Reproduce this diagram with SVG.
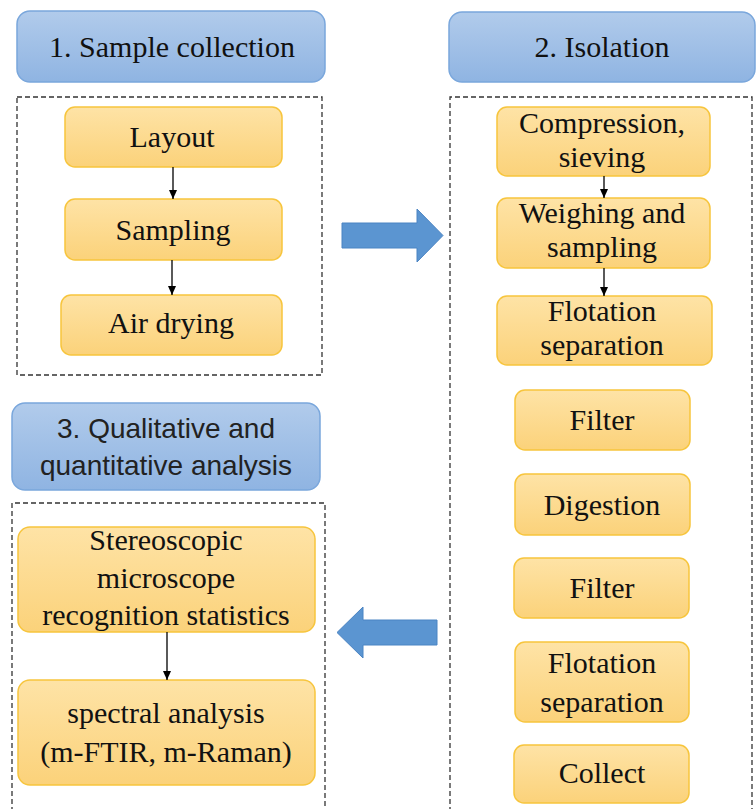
<svg xmlns="http://www.w3.org/2000/svg" width="756" height="809" viewBox="0 0 756 809">
<defs>
<linearGradient id="gBlue" x1="0" y1="0" x2="0" y2="1">
<stop offset="0" stop-color="#b1cbeb"/>
<stop offset="1" stop-color="#8fb4e2"/>
</linearGradient>
<linearGradient id="gOrange" x1="0" y1="0" x2="0" y2="1">
<stop offset="0" stop-color="#fee3a6"/>
<stop offset="1" stop-color="#fbd27a"/>
</linearGradient>
<marker id="ah" markerWidth="10" markerHeight="10" refX="9" refY="5" orient="auto" markerUnits="userSpaceOnUse">
<path d="M0,1 L9,5 L0,9 Z" fill="#000"/>
</marker>
<style>
.hdr{fill:url(#gBlue);stroke:#7aa7dc;stroke-width:1.5}
.box{fill:url(#gOrange);stroke:#f7c53d;stroke-width:1.5}
.dash{fill:none;stroke:#333;stroke-width:1.3;stroke-dasharray:5,3}
.t{font-family:'Liberation Serif','Times New Roman',Tinos,'Noto Serif','DejaVu Serif','Nimbus Roman','FreeSerif',Times,serif;font-size:30px;fill:#111;text-anchor:middle}
.s{font-family:'Liberation Sans',Arial,sans-serif;font-size:28px;fill:#222;text-anchor:middle}
.con{stroke:#000;stroke-width:1.3;fill:none;marker-end:url(#ah)}
.big{fill:#5b95d1;stroke:#4b84c3;stroke-width:1}
</style>
</defs>
<rect width="756" height="809" fill="#fff"/>

<g id="frames">
<rect class="dash" x="17" y="97" width="305" height="278"/>
<path class="dash" d="M450,812 V97 H752 V812"/>
<path class="dash" d="M12,812 V503 H325 V812"/>
</g>

<g id="header1"><rect class="hdr" x="17" y="11" width="308" height="71" rx="13"/><text class="t" x="172" y="57">1. Sample collection</text></g>
<g id="header2"><rect class="hdr" x="449" y="12" width="306" height="70" rx="13"/><text class="t" x="602" y="57">2. Isolation</text></g>
<g id="header3"><rect class="hdr" x="12" y="403" width="308" height="87" rx="13"/><text class="s" x="166" y="438">3. Qualitative and</text><text class="s" x="166" y="475">quantitative analysis</text></g>

<g id="layout"><rect class="box" x="65" y="107" width="217" height="60" rx="10"/><text class="t" x="172" y="147">Layout</text></g>
<g id="sampling"><rect class="box" x="65" y="199" width="217" height="61" rx="10"/><text class="t" x="173" y="240">Sampling</text></g>
<g id="airdrying"><rect class="box" x="61" y="295" width="221" height="60" rx="10"/><text class="t" x="171" y="333">Air drying</text></g>

<g id="compression"><rect class="box" x="497" y="107" width="213" height="69" rx="10"/><text class="t" x="602" y="133">Compression,</text><text class="t" x="602" y="167">sieving</text></g>
<g id="weighing"><rect class="box" x="497" y="198" width="213" height="70" rx="10"/><text class="t" x="602" y="223">Weighing and</text><text class="t" x="602" y="257">sampling</text></g>
<g id="flotation1"><rect class="box" x="497" y="296" width="215" height="69" rx="10"/><text class="t" x="602" y="321">Flotation</text><text class="t" x="602" y="355">separation</text></g>
<g id="filter1"><rect class="box" x="515" y="390" width="175" height="60" rx="10"/><text class="t" x="602" y="430">Filter</text></g>
<g id="digestion"><rect class="box" x="515" y="474" width="175" height="61" rx="10"/><text class="t" x="602" y="515">Digestion</text></g>
<g id="filter2"><rect class="box" x="514" y="558" width="175" height="60" rx="10"/><text class="t" x="602" y="598">Filter</text></g>
<g id="flotation2"><rect class="box" x="515" y="642" width="174" height="80" rx="10"/><text class="t" x="602" y="673">Flotation</text><text class="t" x="602" y="712">separation</text></g>
<g id="collect"><rect class="box" x="514" y="745" width="175" height="58" rx="10"/><text class="t" x="602" y="783">Collect</text></g>

<g id="stereo"><rect class="box" x="18" y="527" width="297" height="105" rx="12"/><text class="t" x="166" y="550">Stereoscopic</text><text class="t" x="166" y="588">microscope</text><text class="t" x="166" y="625">recognition statistics</text></g>
<g id="spectral"><rect class="box" x="18" y="680" width="297" height="105" rx="12"/><text class="t" x="166" y="723">spectral analysis</text><text class="t" x="166" y="762">(m-FTIR, m-Raman)</text></g>

<g id="connectors">
<line class="con" x1="173" y1="167" x2="173" y2="199"/>
<line class="con" x1="172" y1="260" x2="172" y2="295"/>
<line class="con" x1="604" y1="176" x2="604" y2="198"/>
<line class="con" x1="604" y1="268" x2="604" y2="296"/>
<line class="con" x1="167" y1="632" x2="167" y2="680"/>
<path class="big" d="M342,223 H417 V209 L443,235.5 L417,262 V248 H342 Z"/>
<path class="big" d="M437,620 H363 V607 L337,632.5 L363,658 V645 H437 Z"/>
</g>
</svg>
